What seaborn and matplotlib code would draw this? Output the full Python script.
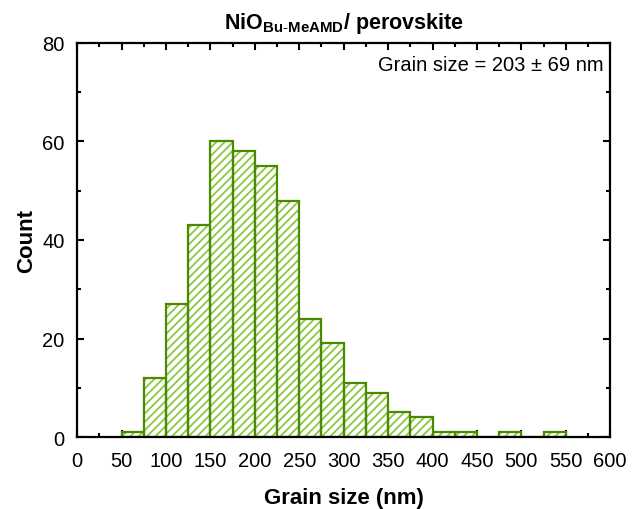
import numpy as np
import pandas as pd
import matplotlib
matplotlib.use("Agg")
import matplotlib.pyplot as plt
import seaborn as sns
from matplotlib.ticker import MultipleLocator

bin_left = [50, 75, 100, 125, 150, 175, 200, 225, 250, 275, 300, 325, 350, 375, 400, 425, 450, 475, 500, 525]
counts = [1, 12, 27, 43, 60, 58, 55, 48, 24, 19, 11, 9, 5, 4, 1, 1, 0, 1, 0, 1]
bin_width = 25
x_ticks = [0, 50, 100, 150, 200, 250, 300, 350, 400, 450, 500, 550, 600]
y_ticks = [0, 20, 40, 60, 80]

sns.set_style("ticks")
plt.rcParams['font.family'] = ['Liberation Sans', 'DejaVu Sans']
plt.rcParams['mathtext.fontset'] = 'custom'
plt.rcParams['mathtext.rm'] = 'Liberation Sans'
plt.rcParams['mathtext.bf'] = 'Liberation Sans:bold'
plt.rcParams['mathtext.it'] = 'Liberation Sans:italic'
for k in ['text.color', 'axes.labelcolor', 'xtick.color', 'ytick.color', 'axes.edgecolor']:
    plt.rcParams[k] = 'black'
plt.rcParams['hatch.linewidth'] = 1.3
plt.rcParams['hatch.color'] = '#8cc63f'

df = pd.DataFrame({"center": np.array(bin_left) + bin_width / 2, "count": counts})
edges = list(bin_left) + [bin_left[-1] + bin_width]

fig = plt.figure(figsize=(6.43, 5.10), dpi=100)
ax = fig.add_axes([0.12, 0.141, 0.829, 0.773])

# hatched fill layer
sns.histplot(data=df, x="center", weights="count", bins=edges, ax=ax,
             fill=True, color="white", edgecolor="#8cc63f", linewidth=0, alpha=1)
for p in ax.patches:
    p.set_hatch('////')
    p.set_facecolor('white')
    p.set_edgecolor('#8cc63f')
    p.set_linewidth(0)
n_hatch = len(ax.patches)
# outline layer
sns.histplot(data=df, x="center", weights="count", bins=edges, ax=ax,
             fill=False, color="#4a8a00", linewidth=1.6)
for p in ax.patches[n_hatch:]:
    p.set_edgecolor('#4a8a00')
    p.set_linewidth(1.6)
    p.set_facecolor('none')

ax.set_xlim(0, 600)
ax.set_ylim(0, 80)
ax.set_xticks(x_ticks)
ax.set_yticks(y_ticks)
ax.xaxis.set_minor_locator(MultipleLocator(25))
ax.yaxis.set_minor_locator(MultipleLocator(10))
ax.tick_params(which='both', direction='in', top=True, right=True, labelsize=14.5, width=1.5, colors='black')
ax.tick_params(which='major', length=5)
ax.tick_params(which='minor', length=3)
ax.tick_params(axis='x', which='major', pad=10)
ax.tick_params(axis='y', which='major', pad=9)
for s in ax.spines.values():
    s.set_visible(True)
    s.set_linewidth(1.6)
    s.set_color('black')

ax.set_xlabel("Grain size (nm)", fontsize=16, fontweight='bold', labelpad=12, color='black')
ax.set_ylabel("Count", fontsize=16, fontweight='bold', labelpad=4, color='black')
ax.set_title(r"NiO$_{\mathbf{Bu\text{-}MeAMD}}$/ perovskite", fontsize=15.5, fontweight='bold', pad=11, color='black')
ax.text(0.988, 0.97, "Grain size = 203 ± 69 nm", transform=ax.transAxes,
        ha='right', va='top', fontsize=14.5, color='black')

fig.savefig("out.png", dpi=100)
